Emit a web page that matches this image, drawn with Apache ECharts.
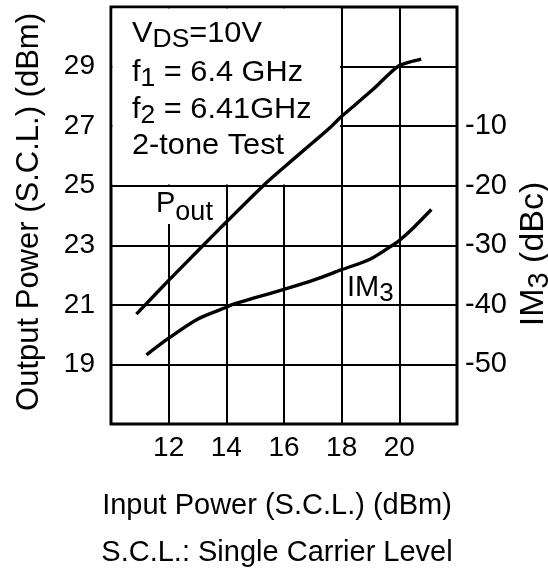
<!DOCTYPE html>
<html><head><meta charset="utf-8">
<script src="https://cdn.jsdelivr.net/npm/echarts@6/dist/echarts.min.js"></script>
<style>html,body{margin:0;padding:0;background:#fff}#c{width:548px;height:572px}</style>
</head><body><div id="c"></div>
<script>
// ---- data ----
const xTickLabels = [12, 14, 16, 18, 20];
const leftTickLabels = [19, 21, 23, 25, 27, 29];
const rightTickLabels = [-50, -40, -30, -20, -10];

const poutIn  = [10.88, 12.0, 13.2, 14.0, 15.28, 16.0, 17.0, 17.65, 18.0, 19.06, 19.94, 20.35, 20.76];
const poutOut = [20.69, 21.82, 23.0, 23.78, 25.0, 25.62, 26.45, 27.0, 27.33, 28.21, 29.0, 29.15, 29.25];

const im3In  = [11.23, 12.0, 13.0, 14.0, 14.18, 15.0, 16.0, 17.0, 18.0, 19.0, 19.76, 20.0, 20.5, 21.11];
const im3Val = [-48.4, -45.6, -42.4, -40.4, -40.0, -38.8, -37.4, -35.9, -34.1, -32.3, -30.0, -29.2, -27.0, -24.0];

// ---- chart ----
const FONT = "'Liberation Sans', Arial, Helvetica, sans-serif";
const chart = echarts.init(document.getElementById('c'), null, {renderer: 'canvas'});

const G = {left: 111, top: 7, width: 346, height: 417};

const ctx = document.createElement('canvas').getContext('2d');
function tw(t, size) { ctx.font = size + 'px ' + FONT; return ctx.measureText(t).width; }

// text with subscripts; (x, y) is the baseline start (or baseline centre when opts.center)
function subText(parts, x, y, opts) {
  opts = opts || {};
  const main = opts.main || 28, sub = opts.sub || 24, drop = opts.drop || 5;
  let total = 0;
  parts.forEach(p => total += tw(p[0], p[1] ? sub : main));
  let cx = opts.center ? -total / 2 : 0;
  const children = [];
  parts.forEach(p => {
    const s = p[1] ? sub : main;
    children.push({
      type: 'text', x: cx, y: (p[1] ? drop : 0) - 0.8 * s, z: 10,
      style: {text: p[0], font: s + 'px ' + FONT, fill: '#000', textAlign: 'left', textVerticalAlign: 'top'}
    });
    cx += tw(p[0], s);
  });
  return {type: 'group', x: x, y: y, rotation: opts.rotation || 0, scaleX: opts.scaleX || 1,
          z: 10, children: children};
}

const option = {
  animation: false,
  backgroundColor: '#fff',
  grid: {left: G.left, top: G.top, width: G.width, height: G.height, show: true,
         borderColor: '#000', borderWidth: 3, backgroundColor: 'transparent'},
  xAxis: {
    type: 'value', min: 10, max: 22, interval: 2,
    axisLine: {show: false}, axisTick: {show: false},
    axisLabel: {color: '#000', fontSize: 28, fontFamily: FONT, margin: 10,
      formatter: v => xTickLabels.indexOf(v) >= 0 ? String(v) : ''},
    splitLine: {show: true, lineStyle: {color: '#000', width: 2}}
  },
  yAxis: [{
    type: 'value', min: 17, max: 31, interval: 2,
    axisLine: {show: false}, axisTick: {show: false},
    axisLabel: {color: '#000', fontSize: 28, fontFamily: FONT, margin: 16,
      formatter: v => leftTickLabels.indexOf(v) >= 0 ? String(v) : ''},
    splitLine: {show: true, lineStyle: {color: '#000', width: 2}}
  }, {
    type: 'value', min: -60, max: 10, interval: 10, position: 'right',
    axisLine: {show: false}, axisTick: {show: false},
    axisLabel: {color: '#000', fontSize: 29, fontFamily: FONT, margin: 8,
      formatter: v => rightTickLabels.indexOf(v) >= 0 ? String(v) : ''},
    splitLine: {show: false}
  }],
  series: [{
    name: 'Pout', type: 'line', yAxisIndex: 0, showSymbol: false, smooth: 0.3, z: 5,
    lineStyle: {color: '#000', width: 3.4},
    data: poutIn.map((x, i) => [x, poutOut[i]])
  }, {
    name: 'IM3', type: 'line', yAxisIndex: 1, showSymbol: false, smooth: 0.3, z: 5,
    lineStyle: {color: '#000', width: 3.4},
    data: im3In.map((x, i) => [x, im3Val[i]])
  }],
  graphic: [
    // white panels behind the annotations
    {type: 'rect', z: 1, shape: {x: 112.5, y: 8.5, width: 227.5, height: 176}, style: {fill: '#fff'}},
    {type: 'rect', z: 1, shape: {x: 150, y: 187, width: 64, height: 37}, style: {fill: '#fff'}},
    subText([['V', 0], ['DS', 1], ['=10V', 0]], 132, 43, {main: 29, sub: 25, scaleX: 1.06}),
    subText([['f', 0], ['1', 1], [' = 6.4 GHz', 0]], 132, 82, {main: 29, sub: 25, scaleX: 1.06}),
    subText([['f', 0], ['2', 1], [' = 6.41GHz', 0]], 132, 119, {main: 29, sub: 25, scaleX: 1.06}),
    subText([['2-tone Test', 0]], 132, 155, {main: 29, scaleX: 1.06}),
    subText([['P', 0], ['out', 1]], 156, 213, {main: 29, sub: 27, drop: 8}),
    subText([['IM', 0], ['3', 1]], 347, 297, {main: 29, sub: 26}),
    subText([['Output Power (S.C.L.) (dBm)', 0]], 39, 212, {center: true, rotation: Math.PI / 2, main: 31}),
    subText([['IM', 0], ['3', 1], [' (dBc)', 0]], 544, 254, {center: true, rotation: Math.PI / 2, main: 34, sub: 29}),
    subText([['Input Power (S.C.L.) (dBm)', 0]], 277, 515, {center: true, main: 29}),
    subText([['S.C.L.: Single Carrier Level', 0]], 277, 562, {center: true, main: 29})
  ]
};
chart.setOption(option);
</script>
</body></html>
